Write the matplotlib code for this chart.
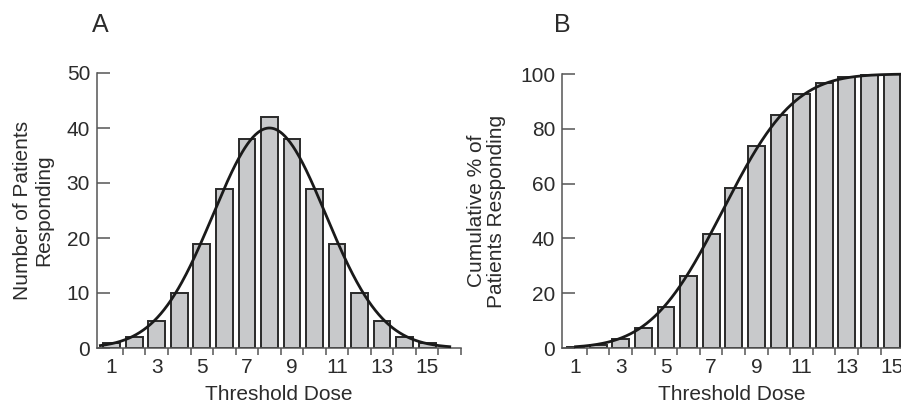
import numpy as np
import matplotlib
matplotlib.use("Agg")
import matplotlib.pyplot as plt
from math import erf

plt.rcParams['font.family'] = ['Liberation Sans', 'DejaVu Sans']

doses = [1, 2, 3, 4, 5, 6, 7, 8, 9, 10, 11, 12, 13, 14, 15]
patients = [1, 2, 5, 10, 19, 29, 38, 42, 38, 29, 19, 10, 5, 2, 1]
cumulative_pct = [0.4, 1.2, 3.2, 7.2, 14.8, 26.4, 41.6, 58.4, 73.6, 85.2, 92.8, 96.8, 98.8, 99.6, 100]
xtick_labels = ['1', '3', '5', '7', '9', '11', '13', '15']
a_yticks = [0, 10, 20, 30, 40, 50]
b_yticks = [0, 20, 40, 60, 80, 100]

# fitted normal model parameters
fit_mean = 8.0
fit_sd = 2.5
fit_peak = 40.0

TXT = '#2b2b2b'
BAR = '#c8c9cb'
EDGE = '#2a2a2a'
AX = '#555555'
FS = 15

fig = plt.figure(figsize=(9.01, 4.05), dpi=100)
axA = fig.add_axes([97/901, 1-348/405, (461-97)/901, (348-73)/405])
axB = fig.add_axes([562/901, 1-348/405, (901-562)/901, (348-74)/405])

def style(ax, xlim, ylim, yticks):
    ax.set_xlim(*xlim)
    ax.set_ylim(*ylim)
    for s in ['top', 'right']:
        ax.spines[s].set_visible(False)
    for s in ['left', 'bottom']:
        ax.spines[s].set_color(AX)
        ax.spines[s].set_linewidth(1.1)
    ax.set_yticks(yticks)
    ax.set_xticks([int(t) for t in xtick_labels])
    ax.set_xticklabels(xtick_labels)
    ax.set_xticks(np.arange(1.5, xlim[1] + 0.01, 1.0), minor=True)
    ax.tick_params(axis='x', which='major', length=0, labelsize=FS, labelcolor=TXT, pad=7)
    ax.tick_params(axis='x', which='minor', direction='out', length=5, width=1.1, color=AX)
    ax.tick_params(axis='y', which='major', direction='in', length=9, width=1.1, color=AX,
                   labelsize=FS, labelcolor=TXT, pad=5)
    ax.set_xlabel('Threshold Dose', fontsize=FS, color=TXT, labelpad=6)

# Panel A
axA.bar(doses, patients, width=0.74, color=BAR, edgecolor=EDGE, linewidth=1.4, zorder=2)
xa = np.linspace(0.5, 16.0, 400)
ya = fit_peak * np.exp(-(xa - fit_mean) ** 2 / (2 * fit_sd ** 2))
axA.plot(xa, ya, color='#1a1a1a', linewidth=2.0, zorder=3, clip_on=False)
style(axA, (0.35, 16.5), (0, 50), a_yticks)
axA.set_ylabel('Number of Patients\nResponding', fontsize=FS, color=TXT, labelpad=10, linespacing=1.1)
fig.text(100/901, 1-25/405, 'A', fontsize=18, color=TXT, ha='center', va='center')

# Panel B
axB.bar(doses, cumulative_pct, width=0.74, color=BAR, edgecolor=EDGE, linewidth=1.4, zorder=2)
xb = np.linspace(1.0, 15.6, 400)
yb = np.array([50 * (1 + erf((x - (fit_mean - 0.5)) / (fit_sd * np.sqrt(2)))) for x in xb])
axB.plot(xb, yb, color='#1a1a1a', linewidth=2.0, zorder=3, clip_on=False)
style(axB, (0.4, 15.4), (0, 100), b_yticks)
axB.set_ylabel('Cumulative % of\nPatients Responding', fontsize=FS, color=TXT, labelpad=10, linespacing=1.1)
fig.text(562/901, 1-25/405, 'B', fontsize=18, color=TXT, ha='center', va='center')

fig.savefig('out.png', dpi=100)
